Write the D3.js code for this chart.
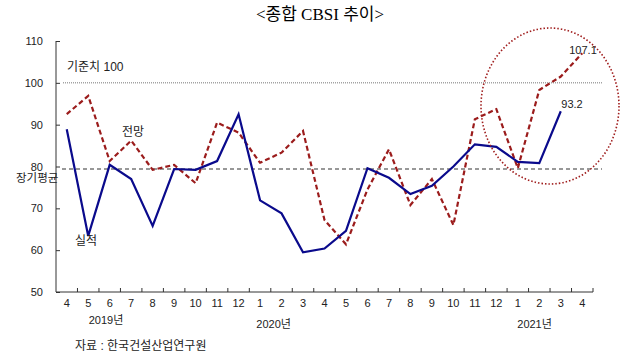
<!DOCTYPE html>
<html><head><meta charset="utf-8">
<script src="https://cdn.jsdelivr.net/npm/d3@7/dist/d3.min.js"></script>
<style>
body{margin:0;background:#fff;}
text{font-family:"Liberation Sans","Noto Sans CJK KR",sans-serif;}
</style></head>
<body>
<svg id="c" width="643" height="360"></svg>
<script>
const months = ["4","5","6","7","8","9","10","11","12","1","2","3","4","5","6","7","8","9","10","11","12","1","2","3","4"];
const categories = months.map((m,i)=>"c"+i);
const yearLabels = ["2019년","2020년","2021년"];
const actual = [88.9,63.4,80.4,77.0,65.8,79.4,79.2,81.3,92.5,71.9,68.8,59.5,60.4,64.6,79.6,77.3,73.4,75.4,80.0,85.3,84.7,81.1,80.8,93.2];
const outlook = [92.5,96.9,81.3,86.2,79.2,80.4,76.0,90.5,88.1,80.9,83.3,88.5,67.2,61.4,74.5,84.1,70.8,77.0,66.0,91.3,93.7,79.6,98.3,101.5,107.1];
const yTicks = [50,60,70,80,90,100,110];
const baseline = 100;
const longAvg = 79.4;

const svg = d3.select("#c");
const x = d3.scaleBand().domain(categories).range([56,593]).padding(0);
const y = d3.scaleLinear().domain([50,110]).range([292,41]);
const cx = i => x(categories[i]) + x.bandwidth()/2;

// title
svg.append("text").attr("x",320).attr("y",20).attr("text-anchor","middle")
  .style("font-family",'"Liberation Serif","DejaVu Serif","Noto Sans CJK KR",serif')
  .style("font-size","17px").text("<종합 CBSI 추이>");

// y axis
const yAxis = d3.axisRight(y).tickValues(yTicks).tickSize(4).tickFormat("");
const gy = svg.append("g").attr("transform","translate(56,0)").call(yAxis);
gy.select(".domain").attr("d","M0,41V292").attr("stroke","#333");
gy.selectAll(".tick line").attr("stroke","#333");
svg.append("g").selectAll("text").data(yTicks).join("text")
  .attr("x",43).attr("y",d=>y(d)+4).attr("text-anchor","end")
  .style("font-size","11px").attr("fill","#222").text(d=>d);

// x axis
const gx = svg.append("g").attr("transform","translate(0,292)");
gx.append("line").attr("x1",56).attr("x2",593).attr("stroke","#333");
gx.selectAll(".tk").data(categories).join("line").attr("class","tk")
  .attr("x1",d=>x(d)+x.bandwidth()).attr("x2",d=>x(d)+x.bandwidth())
  .attr("y1",0).attr("y2",-4).attr("stroke","#333");
gx.selectAll(".lb").data(categories).join("text").attr("class","lb")
  .attr("x",d=>x(d)+x.bandwidth()/2).attr("y",15).attr("text-anchor","middle")
  .style("font-size","11px").attr("fill","#222").text((d,i)=>months[i]);
const yearPos = [[2.33,324],[10.13,328],[22.28,328]];
svg.selectAll(".yr").data(yearLabels).join("text").attr("class","yr")
  .attr("x",(d,i)=>56 + x.bandwidth()*yearPos[i][0]).attr("y",(d,i)=>yearPos[i][1])
  .attr("text-anchor","middle").style("font-size","11px").attr("fill","#222").text(d=>d);

// reference lines
svg.append("line").attr("x1",63).attr("x2",603).attr("y1",y(baseline)).attr("y2",y(baseline))
  .attr("stroke","#777").attr("stroke-width",1).attr("stroke-dasharray","1,1");
svg.append("line").attr("x1",62).attr("x2",602).attr("y1",y(longAvg)).attr("y2",y(longAvg))
  .attr("stroke","#333").attr("stroke-width",1.2).attr("stroke-dasharray","4,3");

// lines
const line = d3.line().x((d,i)=>cx(i)).y(d=>y(d));
svg.append("path").datum(outlook).attr("d",line).attr("fill","none")
  .attr("stroke","#9b1c1c").attr("stroke-width",2.2).attr("stroke-dasharray","5,3");
svg.append("path").datum(actual).attr("d",line).attr("fill","none")
  .attr("stroke","#0a0a8c").attr("stroke-width",2.2);

// ellipse
svg.append("ellipse").attr("cx",550).attr("cy",106).attr("rx",69).attr("ry",78)
  .attr("fill","none").attr("stroke","#a01e1e").attr("stroke-width",1.6).attr("stroke-dasharray","1.5,2");

// annotations
const ann = [
  ["기준치 100",67,71,"start",12],
  ["전망",122,136,"start",12],
  ["장기평균",16,182,"start",11.5],
  ["실적",75,245,"start",12],
  ["107.1",583,54,"middle",11],
  ["93.2",572,108,"middle",11],
  ["자료 : 한국건설산업연구원",75,350,"start",12]
];
svg.selectAll(".ann").data(ann).join("text").attr("class","ann")
  .attr("x",d=>d[1]).attr("y",d=>d[2]).attr("text-anchor",d=>d[3])
  .style("font-size",d=>d[4]+"px").attr("fill","#222").text(d=>d[0]);
</script>
</body></html>
